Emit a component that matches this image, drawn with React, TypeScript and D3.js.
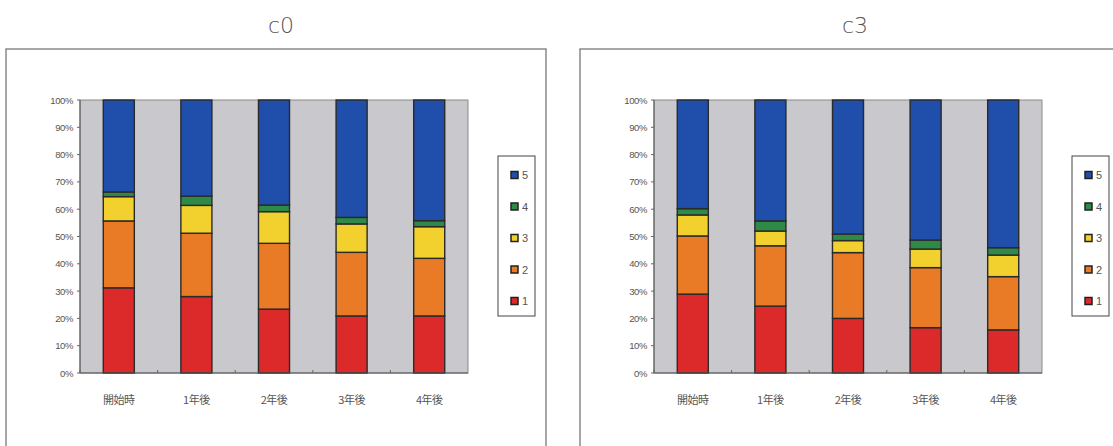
import React from "react";
import * as d3 from "d3";

const categories = ["開始時", "1年後", "2年後", "3年後", "4年後"];
const seriesNames = ["1", "2", "3", "4", "5"];
const seriesColors = ["#dc2a2a", "#e97a26", "#f2d12e", "#2f8a48", "#1f4eab"];

// c0 chart values (percent) per series, per category
const c0_s1 = [31.2, 28.0, 23.4, 20.9, 20.9];
const c0_s2 = [24.5, 23.2, 24.1, 23.3, 21.1];
const c0_s3 = [8.9, 10.2, 11.6, 10.4, 11.6];
const c0_s4 = [1.7, 3.4, 2.4, 2.4, 2.2];
const c0_s5 = [33.7, 35.2, 38.5, 43.0, 44.2];

// c3 chart values
const c3_s1 = [28.9, 24.5, 20.0, 16.6, 15.8];
const c3_s2 = [21.3, 22.1, 24.1, 22.0, 19.5];
const c3_s3 = [7.7, 5.4, 4.4, 6.8, 7.9];
const c3_s4 = [2.3, 3.7, 2.4, 3.3, 2.7];
const c3_s5 = [39.8, 44.3, 49.1, 51.3, 54.1];

const yTicks = [0, 10, 20, 30, 40, 50, 60, 70, 80, 90, 100];

type Props = { x0: number; title: string; series: number[][] };

function Chart({ x0, title, series }: Props) {
  const plotL = x0 + 74;
  const plotR = x0 + 462;
  const plotT = 100;
  const plotB = 373;
  const x = d3.scaleBand<string>().domain(categories).range([plotL, plotR]).paddingInner(0.6).paddingOuter(0.3);
  const xOuter = d3.scaleBand<string>().domain(categories).range([plotL, plotR]);
  const y = d3.scaleLinear().domain([0, 100]).range([plotB, plotT]);

  const rows = categories.map((c, i) => {
    const r: any = { cat: c };
    seriesNames.forEach((s, k) => (r[s] = series[k][i]));
    return r;
  });
  const stacked = d3.stack<any>().keys(seriesNames)(rows);

  const legX = x0 + 492;
  const legY = 156;
  return (
    <g>
      <text x={x0 + 275} y={33} textAnchor="middle" fontSize={22} fill="#555" fontWeight={300} fontFamily="'DejaVu Sans', sans-serif" style={{ fontWeight: 200 }}>
        {title}
      </text>
      <rect x={x0} y={49} width={540} height={420} fill="#fff" stroke="#777" strokeWidth={1.3} />
      <rect x={plotL} y={plotT} width={plotR - plotL} height={plotB - plotT} fill="#c9c8cd" stroke="#8a8a8a" strokeWidth={1} />
      {stacked.map((layer, k) =>
        layer.map((d, i) => (
          <rect
            key={`${k}-${i}`}
            x={x(categories[i])!}
            y={y(Math.min(100, d[1]))}
            width={x.bandwidth()}
            height={y(d[0]) - y(Math.min(100, d[1]))}
            fill={seriesColors[k]}
            stroke="#2a2a2a"
            strokeWidth={1.4}
          />
        ))
      )}
      <line x1={plotL} x2={plotR} y1={plotB} y2={plotB} stroke="#555" strokeWidth={1} />
      <line x1={plotL} x2={plotL} y1={plotT} y2={plotB} stroke="#555" strokeWidth={1} />
      {categories.map((c, i) => (
        <line key={"t" + i} x1={xOuter(c)!} x2={xOuter(c)!} y1={plotB} y2={plotB - 3} stroke="#666" />
      ))}
      {yTicks.map((t) => (
        <g key={"y" + t}>
          <line x1={plotL - 3} x2={plotL} y1={y(t)} y2={y(t)} stroke="#666" />
          <text x={plotL - 7} y={y(t) + 3.5} textAnchor="end" fontSize={9.5} fill="#555" fontFamily="'Liberation Sans Narrow', 'Liberation Sans', Arial, sans-serif" letterSpacing={-0.4}>
            {t}%
          </text>
        </g>
      ))}
      {categories.map((c) => (
        <text
          key={"xl" + c}
          x={x(c)! + x.bandwidth() / 2}
          y={404}
          textAnchor="middle"
          fontSize={11}
          fill="#555"
          fontFamily="'Noto Sans CJK JP', sans-serif"
          letterSpacing={-0.5}
        >
          {c}
        </text>
      ))}
      <rect x={legX} y={legY} width={37} height={160} fill="#fff" stroke="#444" strokeWidth={1} />
      {seriesNames
        .slice()
        .reverse()
        .map((s, j) => {
          const k = seriesNames.length - 1 - j;
          const cy = legY + 19 + j * 31.5;
          return (
            <g key={"lg" + s}>
              <rect x={legX + 13} y={cy - 3.5} width={7} height={7} fill={seriesColors[k]} stroke="#222" strokeWidth={1.5} />
              <text x={legX + 24} y={cy + 4} fontSize={11} fill="#555" fontFamily="'Liberation Sans', Arial, sans-serif">
                {s}
              </text>
            </g>
          );
        })}
    </g>
  );
}

export default function App() {
  return (
    <svg width={1113} height={446} style={{ position: "absolute", left: 0, top: 0, background: "#fff" }}>
      <rect x={0} y={0} width={1113} height={446} fill="#fff" />
      <Chart x0={6} title="c0" series={[c0_s1, c0_s2, c0_s3, c0_s4, c0_s5]} />
      <Chart x0={580} title="c3" series={[c3_s1, c3_s2, c3_s3, c3_s4, c3_s5]} />
    </svg>
  );
}
